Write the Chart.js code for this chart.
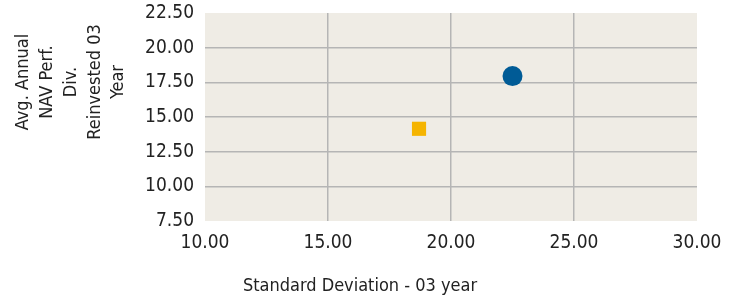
<!DOCTYPE html>
<html>
<head>
<meta charset="utf-8">
<script src="https://cdn.jsdelivr.net/npm/chart.js@4/dist/chart.umd.min.js"></script>
<style>
  html, body { margin: 0; padding: 0; background: #ffffff; }
  #wrap { width: 734px; height: 298px; position: relative; }
</style>
</head>
<body>
<div id="wrap"><canvas id="c" width="734" height="298"></canvas></div>
<script>
const seriesNames = ['Fund', 'Benchmark'];
const stdDevValues = [22.5, 18.7];
const navPerfValues = [17.95, 14.15];
const seriesColors = ['#005b96', '#f5b400'];
const seriesShapes = ['circle', 'rect'];
const xAxisTitle = 'Standard Deviation - 03 year';
const yAxisTitleLines = ['Avg. Annual', 'NAV Perf.', 'Div.', 'Reinvested 03', 'Year'];
const xRange = [10, 30, 5];
const yRange = [7.5, 22.5, 2.5];

const FAMILY = "'DejaVu Sans', sans-serif";
const STRETCH = 'condensed';
const FSIZE = 19;
const TSIZE = 18;

const datasets = seriesNames.map((name, i) => ({
  label: name,
  data: [{ x: stdDevValues[i], y: navPerfValues[i] }],
  backgroundColor: seriesColors[i],
  borderColor: seriesColors[i],
  borderWidth: 0,
  pointStyle: seriesShapes[i],
  pointRadius: 10,
  pointHoverRadius: 10
}));

const decor = {
  id: 'decor',
  beforeDraw(chart) {
    const { ctx, chartArea: a } = chart;
    ctx.save();
    ctx.fillStyle = '#efece5';
    ctx.fillRect(a.left, a.top, a.right - a.left, a.bottom - a.top);
    ctx.restore();
  },
  afterDraw(chart) {
    const { ctx } = chart;
    ctx.save();
    ctx.fillStyle = '#222222';
    ctx.font = STRETCH + ' ' + TSIZE + 'px ' + FAMILY;
    ctx.textAlign = 'center';
    ctx.textBaseline = 'middle';
    ctx.fillText(xAxisTitle, 360, 286);
    const xs = [23, 47, 71, 95, 118];
    yAxisTitleLines.forEach((line, i) => {
      ctx.save();
      ctx.translate(xs[i], 82);
      ctx.rotate(-Math.PI / 2);
      ctx.fillText(line, 0, 0);
      ctx.restore();
    });
    ctx.restore();
  }
};

const gridColor = (ctx) => {
  const n = ctx.scale.ticks.length;
  return (ctx.index === 0 || ctx.index === n - 1) ? 'rgba(0,0,0,0)' : '#b5b5b5';
};

const tickFont = { family: FAMILY, size: FSIZE, weight: STRETCH };

new Chart(document.getElementById('c'), {
  type: 'scatter',
  data: { datasets },
  options: {
    responsive: false,
    animation: false,
    layout: { padding: { top: 13, right: 37, bottom: 0, left: 0 } },
    plugins: { legend: { display: false }, tooltip: { enabled: false } },
    scales: {
      x: {
        type: 'linear',
        min: xRange[0], max: xRange[1],
        ticks: {
          stepSize: xRange[2],
          font: tickFont,
          color: '#222222',
          padding: 11,
          callback: (v) => Number(v).toFixed(2)
        },
        grid: { color: gridColor, lineWidth: 1.5, drawTicks: false },
        border: { display: false },
        afterFit(scale) {
          scale.height = 77;
          scale.paddingLeft = 0; scale.paddingRight = 0;
        }
      },
      y: {
        type: 'linear',
        min: yRange[0], max: yRange[1],
        ticks: {
          stepSize: yRange[2],
          font: tickFont,
          color: '#222222',
          padding: 11,
          callback: (v) => Number(v).toFixed(2)
        },
        grid: { color: gridColor, lineWidth: 1.5, drawTicks: false },
        border: { display: false },
        afterFit(scale) {
          scale.width = 205;
          scale.paddingTop = 0; scale.paddingBottom = 0;
        }
      }
    }
  },
  plugins: [decor]
});
</script>
</body>
</html>
